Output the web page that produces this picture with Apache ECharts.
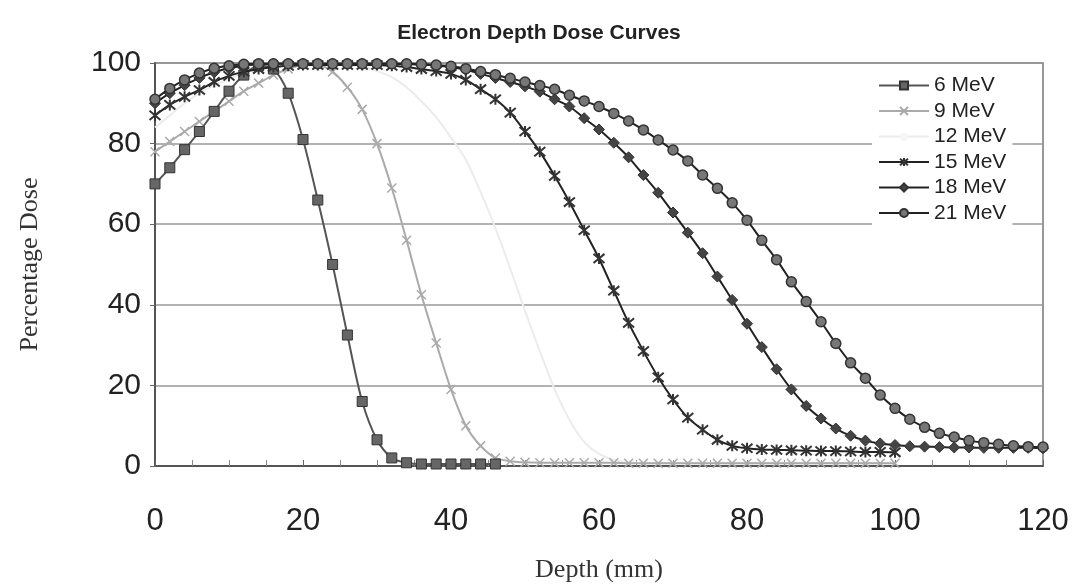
<!DOCTYPE html>
<html>
<head>
<meta charset="utf-8">
<script src="https://cdn.jsdelivr.net/npm/echarts@6/dist/echarts.min.js"></script>
<style>
  html, body { margin: 0; padding: 0; background: #fff; }
  #main { width: 1078px; height: 584px; }
</style>
</head>
<body>
<div id="main"></div>
<script>
'use strict';

// depth in mm, one reading every 2 mm
let depths = [0, 2, 4, 6, 8, 10, 12, 14, 16, 18, 20, 22, 24, 26, 28, 30, 32, 34, 36, 38,
	40, 42, 44, 46, 48, 50, 52, 54, 56, 58, 60, 62, 64, 66, 68, 70, 72, 74, 76, 78,
	80, 82, 84, 86, 88, 90, 92, 94, 96, 98, 100, 102, 104, 106, 108, 110, 112, 114, 116, 118, 120];

let xTicks = [0, 20, 40, 60, 80, 100, 120];
let yTicks = [0, 20, 40, 60, 80, 100];

let dose6 = [70, 74, 78.5, 83, 88, 93, 97, 99.3, 98.5, 92.5, 81, 66, 50, 32.5, 16, 6.5, 2, 0.8, 0.5, 0.5,
	0.5, 0.5, 0.5, 0.5];

let dose9 = [78, 80.5, 83, 85.5, 88, 90.5, 93, 95, 97, 98.5, 99.5, 99.5, 97.8, 94, 88.5, 80, 69, 56, 42.5, 30.5,
	19, 10, 5, 2, 1.2, 0.9, 0.8, 0.8, 0.8, 0.8, 0.8, 0.8, 0.7, 0.7, 0.7, 0.7, 0.7, 0.7, 0.7, 0.7,
	0.7, 0.7, 0.7, 0.7, 0.7, 0.7, 0.7, 0.7, 0.7, 0.7, 0.7];

let dose12 = [84, 87, 90, 92.5, 94.5, 96, 97.5, 98.5, 99, 99.5, 99.8, 99.8, 99.8, 99.5, 99, 98, 96.5, 94, 90.5, 86.5,
	81.5, 76, 68, 59, 49, 38.5, 28.5, 19, 11.5, 6, 3, 1.5, 1, 0.8, 0.8, 0.8, 0.8, 0.8, 0.8, 0.8,
	0.8, 0.8, 0.8, 0.8, 0.8, 0.8, 0.8, 0.8, 0.8, 0.8, 0.8];

let dose15 = [87, 89.6, 91.6, 93.3, 95.3, 96.8, 97.8, 98.5, 99, 99.3, 99.5, 99.5, 99.5, 99.5, 99.5, 99.5, 99.3, 99, 98.5, 98,
	97.3, 95.8, 93.5, 91, 87.7, 83, 78, 72, 65.5, 58.5, 51.5, 43.5, 35.5, 28.5, 22, 16.5, 12, 9, 6.5, 5,
	4.4, 4.1, 4, 3.9, 3.8, 3.7, 3.7, 3.6, 3.5, 3.5, 3.4];

let dose18 = [90, 92.5, 94.5, 96.3, 97.7, 98.7, 99.3, 99.7, 99.8, 99.8, 99.8, 99.8, 99.8, 99.8, 99.8, 99.8, 99.8, 99.7, 99.6, 99.4,
	99, 98.3, 97.3, 96.3, 95.3, 94.2, 92.9, 91, 89.2, 86.3, 83.5, 80.2, 76.6, 72.2, 67.8, 62.9, 57.9, 52.8, 47, 41.2,
	35.3, 29.5, 24, 19, 14.9, 11.8, 9.3, 7.5, 6.3, 5.6, 5.2, 4.9, 4.8, 4.7, 4.6, 4.6, 4.5, 4.5, 4.5, 4.5, 4.4];

let dose21 = [91, 93.7, 95.8, 97.5, 98.7, 99.3, 99.7, 99.8, 99.8, 99.8, 99.8, 99.8, 99.8, 99.8, 99.8, 99.8, 99.8, 99.8, 99.7, 99.5,
	99.2, 98.6, 97.9, 97.1, 96.2, 95.3, 94.4, 93.5, 92, 90.6, 89.2, 87.5, 85.6, 83.4, 80.9, 78.4, 75.7, 72.2, 68.9, 65.3,
	61, 56, 51.2, 45.7, 40.8, 35.8, 30.4, 25.6, 21.8, 17.6, 14.3, 11.6, 9.6, 8.1, 7.2, 6.3, 5.8, 5.4, 5, 4.8, 4.7];

function pairs(values) {
	let out = [];
	for (let i = 0; i < values.length; i++) {
		out.push([depths[i], values[i]]);
	}
	return out;
}

let crossMark = 'path://M0,0L10,10M10,0L0,10';
let starMark = 'path://M0,0L10,10M10,0L0,10M5,-1L5,11';

let myChart = echarts.init(document.getElementById('main'));

let option = {
	backgroundColor: '#fff',
	animation: false,
	title: {
		text: 'Electron Depth Dose Curves',
		left: 'center',
		top: 18,
		textStyle: {
			fontFamily: 'Liberation Sans, Arial, sans-serif',
			fontWeight: 'bold',
			fontSize: 21,
			color: '#222'
		}
	},
	legend: {
		orient: 'vertical',
		left: 872,
		top: 73,
		itemWidth: 50,
		itemHeight: 10,
		itemGap: 4.5,
		backgroundColor: '#fff',
		padding: [2, 6, 4, 6],
		textStyle: {
			fontFamily: 'Liberation Sans, Arial, sans-serif',
			fontSize: 21,
			color: '#222'
		},
		data: ['6 MeV', '9 MeV', '12 MeV', '15 MeV', '18 MeV', '21 MeV']
	},
	grid: {
		left: 155,
		right: 35,
		top: 63,
		bottom: 118,
		outerBoundsMode: 'none',
		show: true,
		borderColor: '#777',
		borderWidth: 1.5
	},
	xAxis: {
		type: 'value',
		min: xTicks[0],
		max: xTicks[xTicks.length - 1],
		interval: 20,
		name: 'Depth (mm)',
		nameLocation: 'middle',
		nameGap: 91,
		nameTextStyle: {
			fontFamily: 'Liberation Serif, Times New Roman, serif',
			fontSize: 26,
			color: '#333'
		},
		axisLine: { lineStyle: { color: '#555', width: 2 } },
		axisTick: { show: true, inside: true, length: 6, lineStyle: { color: '#666' } },
		minorTick: { show: true, splitNumber: 4, length: 6, lineStyle: { color: '#888' } },
		axisLabel: {
			margin: 40,
			fontFamily: 'Liberation Sans, Arial, sans-serif',
			fontSize: 31,
			color: '#222'
		},
		splitLine: { show: false }
	},
	yAxis: {
		type: 'value',
		min: yTicks[0],
		max: yTicks[yTicks.length - 1],
		interval: 20,
		name: 'Percentage Dose',
		nameLocation: 'middle',
		nameGap: 112,
		nameTextStyle: {
			fontFamily: 'Liberation Serif, Times New Roman, serif',
			fontSize: 26,
			color: '#333'
		},
		axisLine: { show: true, lineStyle: { color: '#555', width: 2 } },
		axisTick: { show: true, length: 5, lineStyle: { color: '#666' } },
		axisLabel: {
			margin: 14,
			fontFamily: 'Liberation Sans, Arial, sans-serif',
			fontSize: 30,
			color: '#222'
		},
		splitLine: { show: true, lineStyle: { color: '#999', width: 1.5 } }
	},
	series: [{
		name: '6 MeV',
		type: 'line',
		z: 5,
		smooth: 0.3,
		data: pairs(dose6),
		symbol: 'rect',
		symbolSize: 10,
		lineStyle: { color: '#555', width: 2 },
		itemStyle: { color: '#666', borderColor: '#333', borderWidth: 1 }
	}, {
		name: '9 MeV',
		type: 'line',
		z: 4,
		smooth: 0.3,
		data: pairs(dose9),
		symbol: crossMark,
		symbolSize: 9,
		lineStyle: { color: '#aaa', width: 2 },
		itemStyle: { color: 'none', borderColor: '#aaa', borderWidth: 1.5 }
	}, {
		name: '12 MeV',
		type: 'line',
		z: 3,
		smooth: 0.3,
		data: pairs(dose12),
		symbol: 'none',
		lineStyle: { color: '#ececec', width: 2 },
		itemStyle: { color: '#f6f6f6' }
	}, {
		name: '15 MeV',
		type: 'line',
		z: 6,
		smooth: 0.3,
		data: pairs(dose15),
		symbol: starMark,
		symbolSize: 11,
		lineStyle: { color: '#222', width: 2 },
		itemStyle: { color: 'none', borderColor: '#333', borderWidth: 2 }
	}, {
		name: '18 MeV',
		type: 'line',
		z: 7,
		smooth: 0.3,
		data: pairs(dose18),
		symbol: 'diamond',
		symbolSize: 11,
		lineStyle: { color: '#222', width: 2 },
		itemStyle: { color: '#444', borderColor: '#333', borderWidth: 1 }
	}, {
		name: '21 MeV',
		type: 'line',
		z: 8,
		smooth: 0.3,
		data: pairs(dose21),
		symbol: 'circle',
		symbolSize: 10,
		lineStyle: { color: '#222', width: 2 },
		itemStyle: { color: '#777', borderColor: '#333', borderWidth: 1.5 }
	}]
};

myChart.setOption(option);
</script>
</body>
</html>
